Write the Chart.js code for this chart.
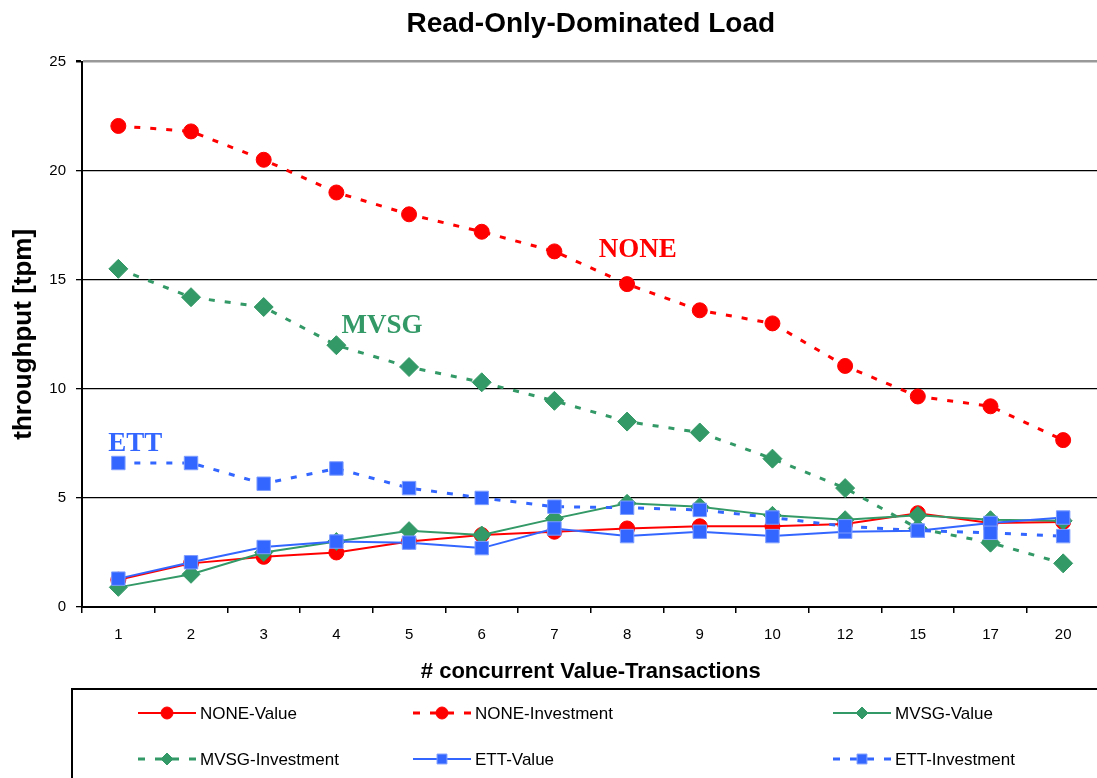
<!DOCTYPE html>
<html lang="en">
<head>
  <meta charset="UTF-8" />
  <title>Read-Only-Dominated Load</title>
  <script src="https://cdn.jsdelivr.net/npm/chart.js"></script>
  <style>
    html, body {
      margin: 0;
      padding: 0;
      background: #ffffff;
      overflow: hidden;
      width: 1097px;
      height: 778px;
    }
    #chart {
      position: absolute;
      left: 0;
      top: 0;
    }
  </style>
</head>
<body>
  <canvas id="chart" width="1110" height="778"></canvas>
<script>
  // categories on the x axis (# concurrent Value-Transactions)
  const categories = ['1', '2', '3', '4', '5', '6', '7', '8', '9', '10', '12', '15', '17', '20'];
  const yTicks = [0, 5, 10, 15, 20, 25];

  // throughput [tpm]
  const noneValue      = [1.25, 2.0, 2.3, 2.5, 3.0, 3.3, 3.45, 3.6, 3.7, 3.7, 3.8, 4.3, 3.85, 3.9];
  const noneInvestment = [22.05, 21.8, 20.5, 19.0, 18.0, 17.2, 16.3, 14.8, 13.6, 13.0, 11.05, 9.65, 9.2, 7.65];
  const mvsgValue      = [0.9, 1.5, 2.5, 3.0, 3.5, 3.3, 4.05, 4.75, 4.6, 4.2, 4.0, 4.2, 4.0, 3.95];
  const mvsgInvestment = [15.5, 14.2, 13.75, 12.0, 11.0, 10.3, 9.45, 8.5, 8.0, 6.8, 5.45, 3.6, 2.95, 2.0];
  const ettValue       = [1.3, 2.05, 2.75, 3.0, 2.95, 2.7, 3.6, 3.25, 3.45, 3.25, 3.45, 3.5, 3.85, 4.1];
  const ettInvestment  = [6.6, 6.6, 5.65, 6.35, 5.45, 5.0, 4.6, 4.55, 4.45, 4.1, 3.7, 3.5, 3.4, 3.25];

  const RED = '#ff0000';
  const GREEN = '#339966';
  const BLUE = '#3366ff';
  const DASH = [6, 10];

  function series(label, data, color, style, radius, dashed, i) {
    return {
      label: label,
      data: data,
      borderColor: color,
      backgroundColor: color,
      borderWidth: dashed ? 3 : 2,
      borderDash: dashed ? DASH : [],
      pointStyle: style,
      pointRadius: radius,
      pointHoverRadius: radius,
      pointBackgroundColor: color,
      pointBorderColor: color === BLUE ? '#7d9dff' : color,
      pointBorderWidth: 1,
      tension: 0,
      fill: false,
      order: 5 - i
    };
  }

  const datasets = [
    series('NONE-Value', noneValue, RED, 'circle', 7.5, false, 0),
    series('NONE-Investment', noneInvestment, RED, 'circle', 7.5, true, 1),
    series('MVSG-Value', mvsgValue, GREEN, 'rectRot', 9, false, 2),
    series('MVSG-Investment', mvsgInvestment, GREEN, 'rectRot', 9.5, true, 3),
    series('ETT-Value', ettValue, BLUE, 'rect', 9.5, false, 4),
    series('ETT-Investment', ettInvestment, BLUE, 'rect', 9.5, true, 5)
  ];

  // NONE / MVSG / ETT labels inside the plot, and the boxed legend below
  const extrasPlugin = {
    id: 'extras',
    afterDatasetsDraw(chart) {
      const ctx = chart.ctx;
      const x = chart.scales.x, y = chart.scales.y;
      ctx.save();
      ctx.font = 'bold 27px "Liberation Serif", "Times New Roman", serif';
      ctx.textAlign = 'left';
      ctx.textBaseline = 'alphabetic';
      ctx.fillStyle = RED;
      ctx.fillText('NONE', x.getPixelForValue(6.61), y.getPixelForValue(16.06));
      ctx.fillStyle = GREEN;
      ctx.fillText('MVSG', x.getPixelForValue(3.07), y.getPixelForValue(12.57));
      ctx.fillStyle = BLUE;
      ctx.fillText('ETT', x.getPixelForValue(-0.14), y.getPixelForValue(7.16));
      ctx.restore();
    },
    afterDraw(chart) {
      const ctx = chart.ctx;
      ctx.save();
      ctx.strokeStyle = '#000';
      ctx.lineWidth = 2;
      ctx.strokeRect(72, 689, 1100, 200);

      const cols = [138, 413, 833];
      const rows = [713, 759];
      ctx.font = '17px "Liberation Sans", Arial, sans-serif';
      ctx.textBaseline = 'middle';
      ctx.textAlign = 'left';
      datasets.forEach((ds, i) => {
        const cx = cols[i % 3];
        const cy = rows[Math.floor(i / 3)];
        const w = 58;
        ctx.strokeStyle = ds.borderColor;
        ctx.lineWidth = ds.borderDash.length ? 3 : 2;
        ctx.setLineDash(ds.borderDash.length ? [7, 10] : []);
        ctx.beginPath();
        ctx.moveTo(cx, cy);
        ctx.lineTo(cx + w, cy);
        ctx.stroke();
        ctx.setLineDash([]);
        ctx.fillStyle = ds.borderColor;
        ctx.strokeStyle = ds.pointBorderColor;
        ctx.lineWidth = 1;
        Chart.helpers.drawPoint(ctx, {
          pointStyle: ds.pointStyle,
          radius: ds.pointStyle === 'rect' ? 7 : 6,
          rotation: 0,
          borderWidth: 1
        }, cx + w / 2, cy);
        ctx.fillStyle = '#000';
        ctx.fillText(ds.label, cx + w + 4, cy + 1);
      });
      ctx.restore();
    }
  };

  new Chart(document.getElementById('chart').getContext('2d'), {
    type: 'line',
    data: {
      labels: categories,
      datasets: datasets
    },
    options: {
      responsive: false,
      animation: false,
      events: [],
      layout: {
        padding: { left: 0, right: 6, top: 0, bottom: 91 }
      },
      plugins: {
        legend: { display: false },
        tooltip: { enabled: false },
        title: {
          display: true,
          fullSize: false,
          text: 'Read-Only-Dominated Load',
          color: '#000',
          font: { family: '"Liberation Sans", Arial, sans-serif', size: 28, weight: 'bold', lineHeight: 1.2 },
          padding: { top: 7, bottom: 21 }
        }
      },
      scales: {
        x: {
          offset: true,
          afterFit: (s) => { s.height = 80; },
          grid: {
            offset: true,
            drawOnChartArea: false,
            drawTicks: true,
            tickLength: 6,
            color: '#000',
            lineWidth: 1.5
          },
          border: { display: true, color: '#000', width: 2 },
          ticks: {
            color: '#000',
            padding: 13,
            font: { family: '"Liberation Sans", Arial, sans-serif', size: 15 }
          },
          title: {
            display: true,
            text: '# concurrent Value-Transactions',
            color: '#000',
            font: { family: '"Liberation Sans", Arial, sans-serif', size: 22, weight: 'bold', lineHeight: 1.2 },
            padding: { top: 0, bottom: 2 }
          }
        },
        y: {
          min: 0,
          max: 25,
          afterFit: (s) => { s.width = 82; },
          afterBuildTicks: (s) => { s.ticks = yTicks.map(v => ({ value: v })); },
          grid: {
            drawTicks: true,
            tickLength: 6,
            color: (c) => (c.tick && c.tick.value === 25) ? '#999' : '#000',
            lineWidth: (c) => (c.tick && c.tick.value === 25) ? 2.5 : 1.3,
            tickColor: '#000'
          },
          border: { display: true, color: '#000', width: 2 },
          ticks: {
            color: '#000',
            padding: 10,
            font: { family: '"Liberation Sans", Arial, sans-serif', size: 15 }
          },
          title: {
            display: true,
            text: 'throughput [tpm]',
            color: '#000',
            font: { family: '"Liberation Sans", Arial, sans-serif', size: 26, weight: 'bold', lineHeight: 1.2 },
            padding: { top: 8, bottom: 0 }
          }
        }
      }
    },
    plugins: [extrasPlugin]
  });
</script>
</body>
</html>
